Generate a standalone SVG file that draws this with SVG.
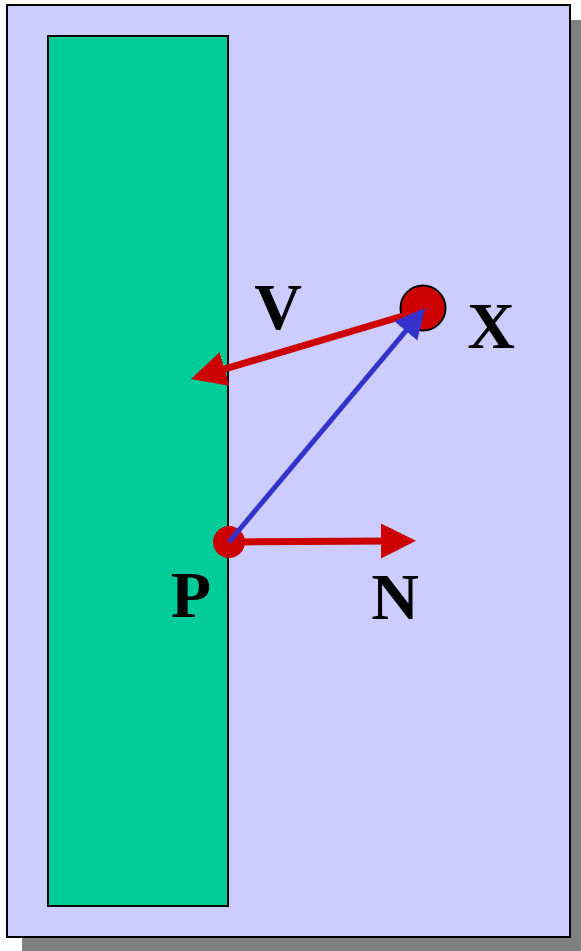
<svg xmlns="http://www.w3.org/2000/svg" width="581" height="951" viewBox="0 0 581 951">
<style>
.lbl{font-family:"Liberation Serif","Times New Roman",serif;font-weight:bold;font-size:66px;fill:#000;text-anchor:middle}
.red{stroke:#CC0000;stroke-width:7;fill:none}
.blue{stroke:#3333CC;stroke-width:5;fill:none}
</style>
<defs>
<marker id="ahRed" markerUnits="userSpaceOnUse" markerWidth="36" markerHeight="36" refX="10" refY="17.5" orient="auto" viewBox="0 0 36 36">
<path d="M0,0 L35,17.5 L0,35 z" fill="#CC0000"/>
</marker>
<marker id="ahBlue" markerUnits="userSpaceOnUse" markerWidth="31" markerHeight="31" refX="10" refY="15" orient="auto" viewBox="0 0 31 31">
<path d="M0,0 L30,15 L0,30 z" fill="#3333CC"/>
</marker>
</defs>
<rect x="22" y="20" width="570" height="940" fill="#808080"/>
<rect x="7" y="5" width="563" height="932" fill="#CCCCFF" stroke="#000" stroke-width="2"/>
<g id="wall">
<rect x="48" y="36" width="180" height="870" fill="#00CC99" stroke="#000" stroke-width="2"/>
</g>
<g id="nodeX">
<circle cx="423" cy="308" r="22.5" fill="#CC0000" stroke="#000" stroke-width="2"/>
<text class="lbl" x="491" y="348">X</text>
</g>
<g id="nodeP">
<circle cx="229" cy="542" r="16" fill="#CC0000"/>
<text class="lbl" x="191" y="617">P</text>
</g>
<g id="labels">
<text id="labelV" class="lbl" x="278" y="329">V</text>
<text id="labelN" class="lbl" x="395" y="619">N</text>
</g>
<g id="connectors">
<line class="red" x1="423" y1="310" x2="215" y2="371.9" marker-end="url(#ahRed)"/>
<line class="red" x1="229" y1="542" x2="391" y2="541" marker-end="url(#ahRed)"/>
<line class="blue" x1="229" y1="542" x2="412.2" y2="323.3" marker-end="url(#ahBlue)"/>
</g>
</svg>
